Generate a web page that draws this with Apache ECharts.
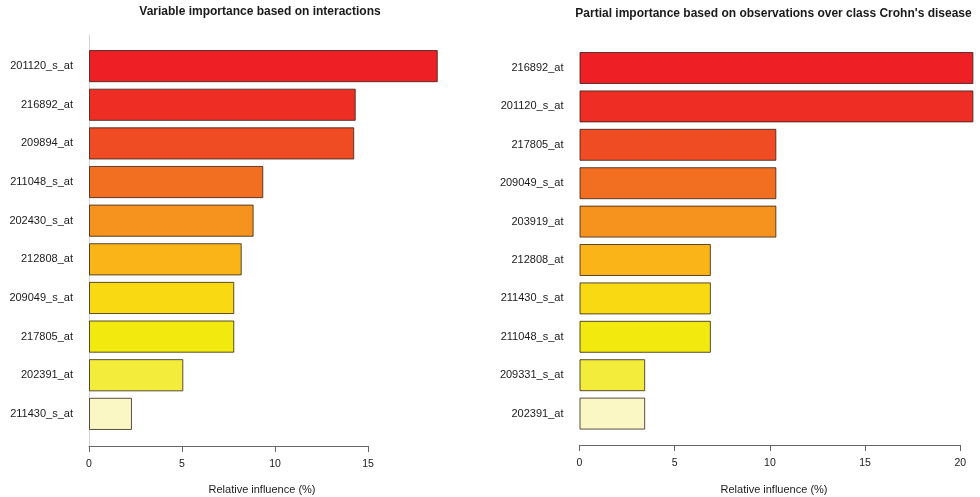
<!DOCTYPE html>
<html>
<head>
<meta charset="utf-8">
<script src="https://cdn.jsdelivr.net/npm/echarts@6/dist/echarts.min.js"></script>
<style>
  html, body { margin: 0; padding: 0; background: #fff; }
  #chart { width: 980px; height: 497px; }
</style>
</head>
<body>
<div id="chart"></div>
<script>
// Variable importance (relative influence, %) from interaction counts
const interactionGenes = ['201120_s_at', '216892_at', '209894_at', '211048_s_at', '202430_s_at',
                          '212808_at', '209049_s_at', '217805_at', '202391_at', '211430_s_at'];
const interactionInfluence = [18.75, 14.34, 14.26, 9.37, 8.85, 8.21, 7.81, 7.81, 5.07, 2.31];

// Partial importance for class "Crohn's disease"
const crohnGenes = ['216892_at', '201120_s_at', '217805_at', '209049_s_at', '203919_at',
                    '212808_at', '211430_s_at', '211048_s_at', '209331_s_at', '202391_at'];
const crohnInfluence = [20.69, 20.69, 10.34, 10.34, 10.34, 6.90, 6.90, 6.90, 3.45, 3.45];

// Axis tick values
const leftTicks = [0, 5, 10, 15];
const rightTicks = [0, 5, 10, 15, 20];

// Bar fill colours, top bar to bottom bar
const barColors = ['#ee1f25', '#ee2e24', '#f04c23', '#f26f21', '#f6921e',
                   '#fbb418', '#f9da12', '#f2e90e', '#f4ec3a', '#faf7c4'];

const FONT = "'Liberation Sans', Arial, Helvetica, sans-serif";
const TXT = '#1a1a1a';

function barSeries(values, xi, yi) {
  return {
    type: 'bar',
    xAxisIndex: xi,
    yAxisIndex: yi,
    data: values,
    barCategoryGap: '16.7%',
    silent: true,
    itemStyle: {
      color: p => barColors[p.dataIndex],
      borderColor: 'rgba(45,30,20,0.78)',
      borderWidth: 1
    }
  };
}

function frameXAxis(grid, ticks) {
  return {
    type: 'value', gridIndex: grid,
    min: ticks[0], max: ticks[ticks.length - 1], interval: ticks[1] - ticks[0],
    axisLine: { show: true, onZero: false, lineStyle: { color: '#666', width: 1 } },
    axisTick: { show: true, length: 6, lineStyle: { color: '#666' } },
    axisLabel: { show: true, margin: 13, fontSize: 10.5, color: TXT, fontFamily: FONT },
    splitLine: { show: false }
  };
}

function frameYAxis(grid, showLine) {
  return {
    type: 'value', gridIndex: grid, min: 0, max: 1,
    axisLine: { show: showLine, onZero: false, lineStyle: { color: '#d3d3d3', width: 1 } },
    axisTick: { show: false }, axisLabel: { show: false }, splitLine: { show: false }
  };
}

function barXAxis(grid, max) {
  return { type: 'value', gridIndex: grid, min: 0, max: max, show: false, splitLine: { show: false } };
}

function barYAxis(grid, names) {
  return {
    type: 'category', gridIndex: grid, data: names, inverse: true,
    axisLine: { show: false }, axisTick: { show: false },
    axisLabel: { margin: 16, fontSize: 11, color: TXT, fontFamily: FONT }
  };
}

const chart = echarts.init(document.getElementById('chart'), null, { renderer: 'canvas' });

chart.setOption({
  backgroundColor: '#ffffff',
  animation: false,
  grid: [
    { left: 89, top: 35, width: 279, height: 411 },        // left frame (axis + zero line)
    { left: 89, top: 46.8, width: 372, height: 386.4 },    // left bars
    { left: 579.5, top: 37, width: 380.8, height: 408 },   // right frame
    { left: 579.5, top: 48.8, width: 399.8, height: 384 }  // right bars
  ],
  xAxis: [
    frameXAxis(0, leftTicks),
    barXAxis(1, 20),
    frameXAxis(2, rightTicks),
    barXAxis(3, 21)
  ],
  yAxis: [
    frameYAxis(0, true),
    barYAxis(1, interactionGenes),
    frameYAxis(2, false),
    barYAxis(3, crohnGenes)
  ],
  series: [
    barSeries(interactionInfluence, 1, 1),
    barSeries(crohnInfluence, 3, 3)
  ],
  graphic: [
    { type: 'text', x: 260, y: 12, silent: true,
      style: { text: 'Variable importance based on interactions', fontSize: 12, fontWeight: 'bold',
               fontFamily: FONT, fill: TXT, align: 'center', verticalAlign: 'middle' } },
    { type: 'text', x: 773.5, y: 14, silent: true,
      style: { text: "Partial importance based on observations over class Crohn's disease", fontSize: 12,
               fontWeight: 'bold', fontFamily: FONT, fill: TXT, align: 'center', verticalAlign: 'middle' } },
    { type: 'text', x: 262, y: 490, silent: true,
      style: { text: 'Relative influence (%)', fontSize: 11, fontFamily: FONT, fill: TXT,
               align: 'center', verticalAlign: 'middle' } },
    { type: 'text', x: 774, y: 490, silent: true,
      style: { text: 'Relative influence (%)', fontSize: 11, fontFamily: FONT, fill: TXT,
               align: 'center', verticalAlign: 'middle' } }
  ]
});
</script>
</body>
</html>
